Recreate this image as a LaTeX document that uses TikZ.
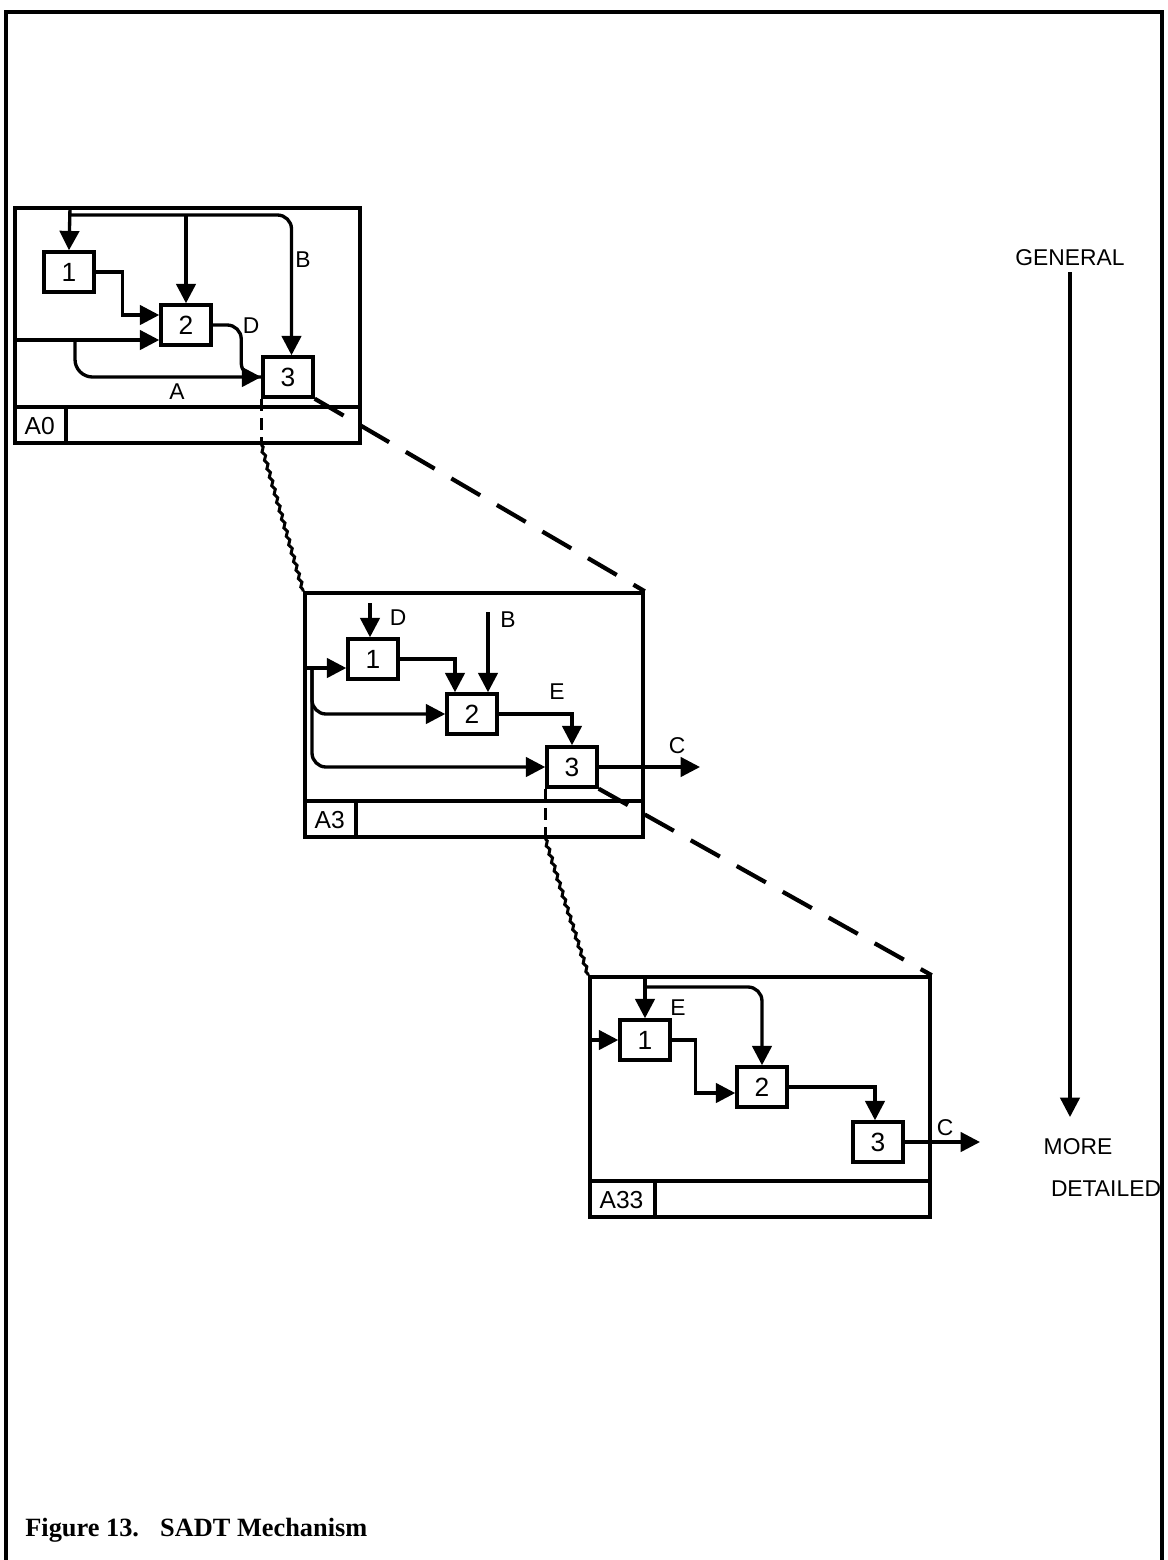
\documentclass[tikz,border=0pt]{standalone}
\usepackage{fontspec}
\setmainfont{Liberation Serif}
\setsansfont{Liberation Sans}
\usepackage{tikz}
\usetikzlibrary{arrows.meta,calc,positioning,decorations.pathmorphing}
\newcommand{\sadtframe}[5]{%
  \node[diagframe,minimum width=#3,minimum height=#4] (#1) at (#2) {};
  \node[framelab,anchor=south west] (#1lab) at (#1.south west) {#5};
  \draw[frameline] (#1lab.north west) -- (#1lab.north -| #1.east);
  \draw[frameline] (#1lab.north east) -- (#1lab.south east);}

\begin{document}
\begin{tikzpicture}[x=0.02cm,y=-0.02cm,
  diagframe/.style={draw,line width=2pt,inner sep=0pt},
  frameline/.style={line width=2pt},
  framelab/.style={font=\sffamily\fontsize{14}{14}\selectfont,minimum height=0.74cm,inner xsep=0.22cm,inner ysep=0pt},
  actbox/.style={draw,line width=2pt,minimum width=1cm,minimum height=0.8cm,inner sep=0pt,font=\sffamily\fontsize{15}{15}\selectfont},
  flow/.style={line width=1.9pt,-{Triangle[length=11pt,width=11pt]}},
  link/.style={line width=1.9pt},
  tag/.style={font=\sffamily\fontsize{13}{13}\selectfont},
  zoomline/.style={line width=2.4pt,dash pattern=on 19pt off 11pt},
  tickline/.style={line width=1.6pt,dash pattern=on 7pt off 4pt},
  wavyline/.style={line width=1.7pt,decorate,decoration={snake,amplitude=0.7pt,segment length=5pt}}]
  \useasboundingbox (0,0) rectangle (1168,1560);
  \draw[line width=2.4pt] (6,1560) -- (6,12) -- (1162,12) -- (1162,1560);

  \sadtframe{a0}{187.5,325.5}{6.9cm}{4.7cm}{A0}
  \node[actbox] (a0b1) at (69,272) {1};
  \node[actbox] (a0b2) at (186,325) {2};
  \node[actbox] (a0b3) at (288,377) {3};
  \coordinate (a0ctl) at (70,208);
  \coordinate (a0bus) at (70,215);
  \coordinate (a0in) at (15,340);
  \coordinate (a0split) at (75,340);
  \draw[flow] (a0ctl) -- (a0b1.north);
  \draw[flow] (a0b2.north |- a0bus) -- (a0b2.north);
  \draw[flow,rounded corners=8pt] (a0bus) -| ([xshift=2pt]a0b3.north);
  \draw[flow] (a0b1.east) -- ++(27,0) |- ([yshift=0.2cm]a0b2.west);
  \draw[flow] (a0in) -- (a0in -| a0b2.west);
  \draw[flow,rounded corners=10pt] (a0split) |- (a0b3.west);
  \draw[link,rounded corners=8pt] (a0b2.east) -| ([xshift=-0.4cm]a0b3.west) -- (a0b3.west);
  \node[tag] (a0lB) at (303,260) {B};
  \node[tag] (a0lD) at (251,326) {D};
  \node[tag] (a0lA) at (177,392) {A};

  \sadtframe{a3}{474,715}{6.76cm}{4.88cm}{A3}
  \node[actbox] (a3b1) at (373,659) {1};
  \node[actbox] (a3b2) at (472,714) {2};
  \node[actbox] (a3b3) at (572,767) {3};
  \coordinate (a3d) at (370,603);
  \coordinate (a3bb) at (488,612);
  \coordinate (a3in) at (305,668);
  \coordinate (a3split) at (312,668);
  \coordinate (a3out) at (700,767);
  \draw[flow] (a3d) -- (a3d |- a3b1.north);
  \draw[flow] (a3bb) -- (a3bb |- a3b2.north);
  \draw[flow] (a3b1.east) -| ([xshift=-0.34cm]a3b2.north);
  \draw[flow] (a3in) -- (a3in -| a3b1.west);
  \draw[flow,rounded corners=8pt] (a3split) |- (a3b2.west);
  \draw[flow,rounded corners=8pt] (a3split) |- (a3b3.west);
  \draw[flow] (a3b2.east) -| (a3b3.north);
  \draw[flow] (a3b3.east) -- (a3out);
  \node[tag] (a3lD) at (398,618) {D};
  \node[tag] (a3lB) at (508,620) {B};
  \node[tag] (a3lE) at (557,692) {E};
  \node[tag] (a3lC) at (677,746) {C};

  \sadtframe{a33}{760,1097}{6.8cm}{4.8cm}{A33}
  \node[actbox] (a33b1) at (645,1040) {1};
  \node[actbox] (a33b2) at (762,1087) {2};
  \node[actbox] (a33b3) at (878,1142) {3};
  \coordinate (a33ctl) at (645,977);
  \coordinate (a33bus) at (645,987);
  \coordinate (a33in) at (590,1040);
  \coordinate (a33out) at (980,1142);
  \draw[flow] (a33ctl) -- (a33b1.north);
  \draw[flow,rounded corners=8pt] (a33bus) -| (a33b2.north);
  \draw[flow] (a33in) -- (a33b1.west);
  \draw[flow] (a33b1.east) -- ++(24,0) |- ([yshift=-0.12cm]a33b2.west);
  \draw[flow] (a33b2.east) -| ([xshift=-0.06cm]a33b3.north);
  \draw[flow] (a33b3.east) -- (a33out);
  \node[tag] (a33lE) at (678,1008) {E};
  \node[tag] (a33lC) at (945,1128) {C};

  \draw[zoomline] (a0b3.south east) -- (a3.north east);
  \draw[tickline] (a0b3.south west) -- (a0b3.south west |- a0.south);
  \draw[wavyline] (a0b3.south west |- a0.south) -- (a3.north west);
  \draw[zoomline] (a3b3.south east) -- (a33.north east);
  \draw[tickline] (a3b3.south west) -- (a3b3.south west |- a3.south);
  \draw[wavyline] (a3b3.south west |- a3.south) -- (a33.north west);

  \node[tag] (gen) at (1070,258) {GENERAL};
  \node[tag] (more) at (1078,1147) {MORE};
  \node[tag] (det) at (1106,1189) {DETAILED};
  \coordinate (genend) at (1070,1117);
  \draw[flow] (gen.south) -- (genend);

  \node[anchor=west,font=\bfseries\fontsize{15}{15}\selectfont,inner sep=0pt] (caption) at (25,1530) {Figure 13.\hspace{12pt}SADT Mechanism};
\end{tikzpicture}
\end{document}
